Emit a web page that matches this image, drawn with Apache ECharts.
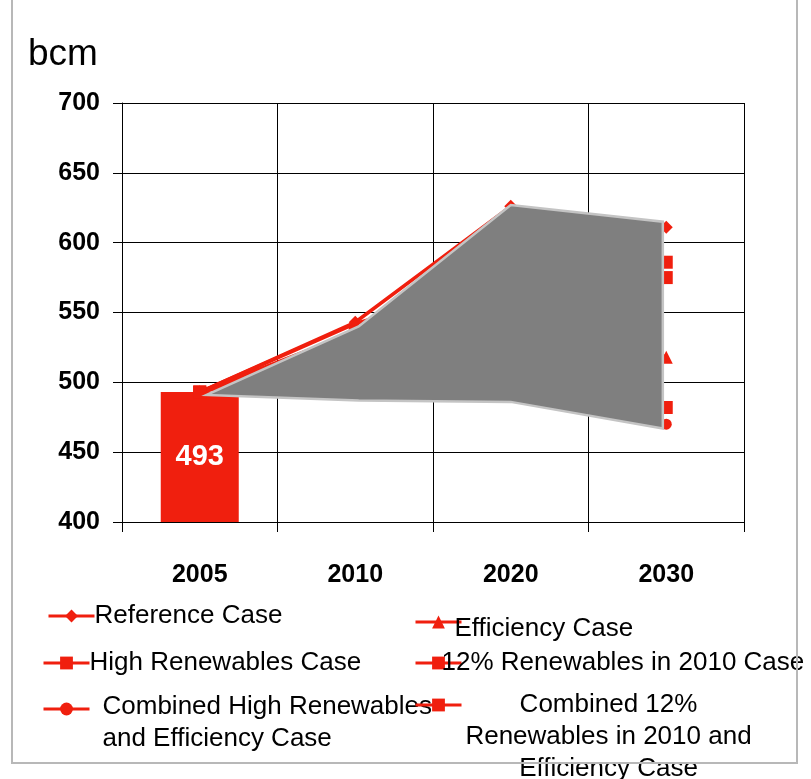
<!DOCTYPE html>
<html>
<head>
<meta charset="utf-8">
<script src="https://cdn.jsdelivr.net/npm/echarts@6/dist/echarts.min.js"></script>
<style>
html,body{margin:0;padding:0;background:#fff;}
#chart{width:811px;height:779px;}
</style>
</head>
<body>
<div id="chart"></div>
<script>
// ---- data ----
const categories = ['2005', '2010', '2020', '2030'];
const yTicks = [400, 450, 500, 550, 600, 650, 700];
const barValues = [493, null, null, null];
const referenceCase = [493, 543, 626, 611];
const efficiencyCase = [493, 542, 575, 518];
const highRenewablesCase = [493, 536, 600, 586];
const renewables12Case = [493, 528, 590, 575];
const combinedHighRenEff = [493, 520, 540, 470];
const combined12RenEff = [493, 515, 530, 482];
const bandMax = [491, 540, 627, 615];
const bandMin = [491, 487, 486, 467];
const seriesNames = [
  'Reference Case',
  'Efficiency Case',
  'High Renewables Case',
  '12% Renewables in 2010 Case',
  'Combined High Renewables and Efficiency Case',
  'Combined 12% Renewables in 2010 and Efficiency Case'
];

const RED = '#f01f0e';
const FONT = '"Liberation Sans", Arial, sans-serif';

function lineSeries(name, data, symbol, size) {
  return {
    name: name, type: 'line', data: data, symbol: symbol, symbolSize: size,
    z: 2, silent: true, animation: false,
    lineStyle: { color: RED, width: 3.5 },
    itemStyle: { color: RED }
  };
}

function legendItem(name, left, top, padLeft, formatter, rich) {
  const l = {
    data: [name], left: left, top: top, orient: 'horizontal',
    itemWidth: 46, itemHeight: 16, selectedMode: false, padding: 0,
    lineStyle: { width: 3, color: RED },
    itemStyle: { color: RED },
    textStyle: { fontFamily: FONT, fontSize: 26, color: '#000', padding: [0, 0, 0, padLeft], lineHeight: 32 }
  };
  if (formatter) l.formatter = formatter;
  if (rich) l.textStyle.rich = rich;
  return l;
}

const richBase = {
  e14: { fontSize: 10, lineHeight: 14 },
  e28: { fontSize: 10, lineHeight: 28 },
  e64: { fontSize: 10, lineHeight: 64 },
  t: { fontFamily: FONT, fontSize: 26, color: '#000', lineHeight: 32 },
  c: { fontFamily: FONT, fontSize: 26, color: '#000', width: 300, align: 'center', lineHeight: 32 }
};

const chart = echarts.init(document.getElementById('chart'), null, { renderer: 'canvas' });
const option = {
  animation: false,
  backgroundColor: '#fff',
  grid: { left: 122, right: 67, top: 103, bottom: 257, containLabel: false },
  xAxis: {
    type: 'category', data: categories, boundaryGap: true,
    axisLine: { show: true, lineStyle: { color: '#000', width: 1 } },
    axisTick: { show: true, length: 10, alignWithLabel: false, lineStyle: { color: '#000' } },
    splitLine: { show: true, lineStyle: { color: '#000', width: 1 } },
    axisLabel: { fontFamily: FONT, fontSize: 25, fontWeight: 'bold', color: '#000', margin: 41 }
  },
  yAxis: {
    type: 'value', min: yTicks[0], max: yTicks[yTicks.length - 1], interval: yTicks[1] - yTicks[0],
    axisLine: { show: true, lineStyle: { color: '#000', width: 1 } },
    axisTick: { show: true, length: 9, lineStyle: { color: '#000' } },
    splitLine: { show: true, lineStyle: { color: '#000', width: 1 } },
    axisLabel: { fontFamily: FONT, fontSize: 25, fontWeight: 'bold', color: '#000', margin: 22 }
  },
  legend: [
    legendItem(seriesNames[0], 47, 600, -5),
    legendItem(seriesNames[1], 414, 599, -12,
      function () { return '{e14| }\n{t|Efficiency Case}'; }, richBase),
    legendItem(seriesNames[2], 42, 647, -5),
    legendItem(seriesNames[3], 414, 647, -25),
    legendItem(seriesNames[4], 42, 663, 8,
      function () { return '{e28| }\n{t|Combined High Renewables}\n{t|and Efficiency Case}'; }, richBase),
    legendItem(seriesNames[5], 414, 625, -8,
      function () { return '{e64| }\n{c|Combined 12%}\n{c|Renewables in 2010 and}\n{c|Efficiency Case}'; }, richBase)
  ],
  graphic: [
    { type: 'rect', silent: true, shape: { x: 12, y: -5, width: 785, height: 768 },
      style: { fill: 'none', stroke: '#b8b8b8', lineWidth: 2 }, z: 100 },
    { type: 'text', silent: true, x: 28, y: 55,
      style: { text: 'bcm', fontFamily: FONT, fontSize: 37, fill: '#000', verticalAlign: 'middle' } }
  ],
  series: [
    {
      name: 'bar', type: 'bar', data: barValues, barWidth: 78, z: 1, silent: true,
      itemStyle: { color: RED },
      label: { show: true, position: 'inside', color: '#fff', fontFamily: FONT, fontSize: 29, fontWeight: 'bold',
        formatter: function (p) { return p.value; } }
    },
    lineSeries(seriesNames[0], referenceCase, 'diamond', 13),
    lineSeries(seriesNames[1], efficiencyCase, 'triangle', 13),
    lineSeries(seriesNames[2], highRenewablesCase, 'rect', 13),
    lineSeries(seriesNames[3], renewables12Case, 'rect', 13),
    lineSeries(seriesNames[4], combinedHighRenEff, 'circle', 11),
    lineSeries(seriesNames[5], combined12RenEff, 'rect', 13),
    {
      name: 'band', type: 'custom', z: 5, silent: true,
      data: [[0, bandMax[0]]],
      renderItem: function (params, api) {
        const pts = [];
        for (let i = 0; i < categories.length; i++) pts.push(api.coord([i, bandMax[i]]));
        for (let i = categories.length - 1; i >= 0; i--) pts.push(api.coord([i, bandMin[i]]));
        // the band in the original is drawn slightly narrower than the category span
        const cx = api.coord([2, bandMax[2]])[0];
        pts.forEach(function (p) { p[0] = cx + (p[0] - cx) * 0.978; });
        return { type: 'polygon', shape: { points: pts },
          style: { fill: '#7f7f7f', stroke: '#c4c4c4', lineWidth: 2.5, lineJoin: 'miter' } };
      }
    }
  ]
};
chart.setOption(option);
</script>
</body>
</html>
